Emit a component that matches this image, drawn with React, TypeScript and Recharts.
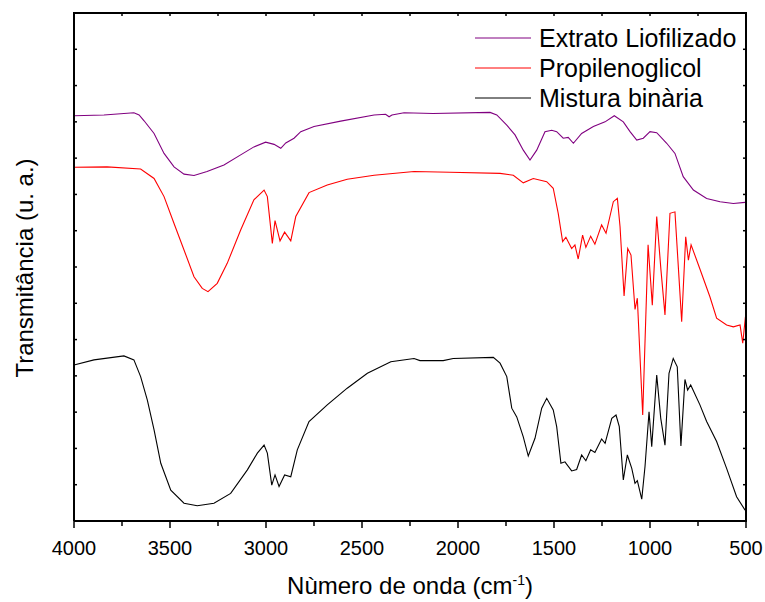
import { LineChart, Line, XAxis, YAxis } from "recharts";

document.body.style.margin = "0";

const FONT = '"Liberation Sans", Arial, sans-serif';

// plot box inside the 765x602 chart
const PLOT_L = 74;
const PLOT_T = 13;
const PLOT_W = 672;
const PLOT_H = 508;

// wavenumbers (cm-1) and transmittance (u. a.)
const extratoWn = [4000, 3844, 3688, 3661, 3635, 3583, 3531, 3479, 3427, 3375, 3307, 3219, 3132, 3063, 3002, 2958, 2923, 2897, 2854, 2819, 2750, 2611, 2437, 2377, 2359, 2344, 2281, 2130, 1833, 1798, 1746, 1703, 1660, 1625, 1590, 1547, 1512, 1486, 1452, 1426, 1399, 1356, 1295, 1234, 1186, 1139, 1104, 1069, 1035, 1000, 965, 913, 870, 827, 774, 705, 635, 566, 505];
const extratoT = [11.17, 11.19, 11.25, 11.19, 11.03, 10.68, 10.13, 9.76, 9.56, 9.52, 9.63, 9.81, 10.09, 10.31, 10.44, 10.38, 10.27, 10.42, 10.55, 10.73, 10.87, 11.02, 11.19, 11.21, 11.14, 11.19, 11.25, 11.23, 11.26, 11.19, 10.91, 10.64, 10.22, 9.95, 10.22, 10.73, 10.77, 10.73, 10.55, 10.57, 10.41, 10.68, 10.87, 11.0, 11.17, 11.0, 10.73, 10.5, 10.55, 10.73, 10.7, 10.41, 10.13, 9.49, 9.12, 8.89, 8.8, 8.75, 8.78];

const propWn = [4000, 3828, 3653, 3583, 3531, 3479, 3427, 3375, 3332, 3302, 3254, 3202, 3132, 3063, 3010, 2993, 2967, 2953, 2927, 2903, 2871, 2845, 2776, 2681, 2577, 2437, 2229, 2042, 1781, 1712, 1660, 1608, 1538, 1504, 1478, 1455, 1438, 1408, 1391, 1374, 1351, 1334, 1309, 1287, 1252, 1229, 1191, 1170, 1156, 1135, 1116, 1099, 1078, 1066, 1038, 1010, 988, 965, 943, 922, 896, 870, 835, 814, 800, 786, 741, 688, 653, 601, 566, 531, 517, 503];
const propT = [9.75, 9.76, 9.7, 9.44, 8.94, 8.2, 7.47, 6.73, 6.41, 6.32, 6.55, 7.1, 8.02, 8.85, 9.12, 8.94, 7.65, 8.28, 7.72, 7.96, 7.72, 8.39, 9.05, 9.26, 9.42, 9.53, 9.63, 9.61, 9.58, 9.53, 9.32, 9.44, 9.35, 9.17, 8.48, 7.7, 7.82, 7.51, 7.61, 7.22, 7.88, 7.54, 7.85, 7.63, 8.16, 7.93, 8.8, 8.89, 8.11, 6.2, 7.51, 7.33, 5.83, 6.14, 2.92, 7.61, 5.95, 8.39, 6.92, 5.68, 8.48, 8.52, 5.49, 7.83, 7.19, 7.61, 6.96, 6.18, 5.59, 5.4, 5.35, 5.4, 4.9, 5.63];

const misturaWn = [4000, 3896, 3740, 3688, 3653, 3618, 3583, 3548, 3496, 3427, 3358, 3271, 3184, 3097, 3045, 3010, 2993, 2970, 2953, 2932, 2903, 2871, 2837, 2776, 2681, 2577, 2472, 2350, 2229, 2198, 2077, 2025, 1816, 1781, 1746, 1720, 1694, 1660, 1634, 1599, 1564, 1538, 1504, 1486, 1464, 1443, 1408, 1382, 1356, 1334, 1309, 1287, 1252, 1234, 1199, 1177, 1160, 1139, 1118, 1095, 1078, 1066, 1043, 1026, 1005, 991, 965, 944, 922, 901, 879, 858, 839, 818, 804, 788, 740, 705, 653, 601, 549, 505];
const misturaT = [4.3, 4.44, 4.55, 4.44, 3.98, 3.33, 2.51, 1.59, 0.85, 0.49, 0.42, 0.49, 0.76, 1.41, 1.87, 2.09, 1.87, 0.99, 1.27, 0.95, 1.27, 1.22, 1.96, 2.74, 3.2, 3.66, 4.07, 4.39, 4.48, 4.42, 4.42, 4.48, 4.51, 4.35, 3.98, 3.11, 2.87, 2.32, 1.79, 2.28, 3.11, 3.38, 3.06, 2.6, 1.59, 1.63, 1.38, 1.42, 1.82, 1.66, 1.96, 1.89, 2.26, 2.14, 2.83, 2.92, 2.6, 1.13, 1.82, 1.45, 1.04, 1.11, 0.6, 1.5, 3.01, 2.05, 4.02, 2.83, 2.09, 4.07, 4.48, 4.25, 2.07, 3.9, 3.61, 3.75, 3.2, 2.74, 2.19, 1.45, 0.67, 0.3];

const X_MIN = 500;
const X_MAX = 4000;
const Y_MAX = 14;
const xTicks = [4000, 3750, 3500, 3250, 3000, 2750, 2500, 2250, 2000, 1750, 1500, 1250, 1000, 750, 500];
const yTicks = [0, 1, 2, 3, 4, 5, 6, 7, 8, 9, 10, 11, 12, 13, 14];

type Pt = { wn: number; t: number };
const toPoints = (wn: number[], t: number[]): Pt[] =>
  wn.map((w, i) => ({ wn: w, t: t[i] }));

const series = [
  { name: "Extrato Liofilizado", color: "#800080", data: toPoints(extratoWn, extratoT) },
  { name: "Propilenoglicol", color: "#ff0000", data: toPoints(propWn, propT) },
  { name: "Mistura binària", color: "#000000", data: toPoints(misturaWn, misturaT) },
];

function BottomTick(props: any) {
  const { x, y, payload } = props;
  const major = payload.value % 500 === 0;
  return (
    <g>
      <line x1={x} y1={y} x2={x} y2={y + (major ? 7 : 5)} stroke="#000" strokeWidth={1.5} />
      {major && (
        <text x={x} y={y + 34} textAnchor="middle" fontSize={20} fontFamily={FONT} fill="#000">
          {payload.value}
        </text>
      )}
    </g>
  );
}

function LeftTick(props: any) {
  const { x, y } = props;
  return <line x1={x} y1={y} x2={x + 3} y2={y} stroke="#000" strokeWidth={1.5} />;
}

// top and right edges of the frame with inward ticks, laid over the chart
function FrameOverlay() {
  const right = PLOT_L + PLOT_W;
  const bottom = PLOT_T + PLOT_H;
  const xPos = (v: number) => PLOT_L + ((X_MAX - v) / (X_MAX - X_MIN)) * PLOT_W;
  const yPos = (v: number) => bottom - (v / Y_MAX) * PLOT_H;
  return (
    <svg width={765} height={602} style={{ position: "absolute", left: 0, top: 0, pointerEvents: "none" }}>
      <line x1={PLOT_L} y1={PLOT_T} x2={right} y2={PLOT_T} stroke="#000" strokeWidth={2} strokeLinecap="square" />
      <line x1={right} y1={PLOT_T} x2={right} y2={bottom} stroke="#000" strokeWidth={2} strokeLinecap="square" />
      {xTicks.map((v) => (
        <line key={`t${v}`} x1={xPos(v)} y1={PLOT_T} x2={xPos(v)} y2={PLOT_T + 3} stroke="#000" strokeWidth={1.5} />
      ))}
      {yTicks.map((v) => (
        <line key={`r${v}`} x1={right} y1={yPos(v)} x2={right - 3} y2={yPos(v)} stroke="#000" strokeWidth={1.5} />
      ))}
    </svg>
  );
}

const axisLine = { stroke: "#000", strokeWidth: 2 };

export default function App() {
  return (
    <div style={{ position: "relative", width: 765, height: 602, background: "#fff" }}>
      <LineChart width={765} height={602} margin={{ top: PLOT_T, right: 19, bottom: 0, left: 0 }}>
        <XAxis
          xAxisId="b"
          dataKey="wn"
          type="number"
          domain={[X_MIN, X_MAX]}
          reversed
          ticks={xTicks}
          interval={0}
          height={81}
          tickSize={0}
          tickMargin={0}
          tickLine={false}
          axisLine={axisLine}
          tick={<BottomTick />}
        />
        <YAxis
          yAxisId="l"
          type="number"
          domain={[0, Y_MAX]}
          ticks={yTicks}
          interval={0}
          width={PLOT_L}
          tickSize={0}
          tickMargin={0}
          tickLine={false}
          axisLine={axisLine}
          tick={<LeftTick />}
        />
        {series.map((s) => (
          <Line
            key={s.name}
            name={s.name}
            data={s.data}
            dataKey="t"
            xAxisId="b"
            yAxisId="l"
            type="linear"
            stroke={s.color}
            strokeWidth={1.1}
            dot={false}
            isAnimationActive={false}
          />
        ))}
      </LineChart>
      <FrameOverlay />
      <div style={{ position: "absolute", top: 23, left: 475, fontFamily: FONT, fontSize: 25, color: "#000" }}>
        {series.map((s) => (
          <div key={s.name} style={{ display: "flex", alignItems: "center", height: 30 }}>
            <svg width={56} height={30}>
              <line x1={0} y1={15} x2={56} y2={15} stroke={s.color} strokeWidth={1} />
            </svg>
            <span style={{ marginLeft: 8, lineHeight: "30px", whiteSpace: "nowrap" }}>{s.name}</span>
          </div>
        ))}
      </div>
      <div
        style={{
          position: "absolute",
          left: 0,
          width: 820,
          top: 565,
          textAlign: "center",
          fontFamily: FONT,
          fontSize: 24,
          color: "#000",
          lineHeight: "30px",
        }}
      >
        Nùmero de onda (cm<sup style={{ fontSize: 14 }}>-1</sup>)
      </div>
      <div
        style={{
          position: "absolute",
          left: 25,
          top: 268,
          transform: "translate(-50%, -50%) rotate(-90deg)",
          fontFamily: FONT,
          fontSize: 24,
          color: "#000",
          whiteSpace: "nowrap",
        }}
      >
        Transmitância (u. a.)
      </div>
    </div>
  );
}
